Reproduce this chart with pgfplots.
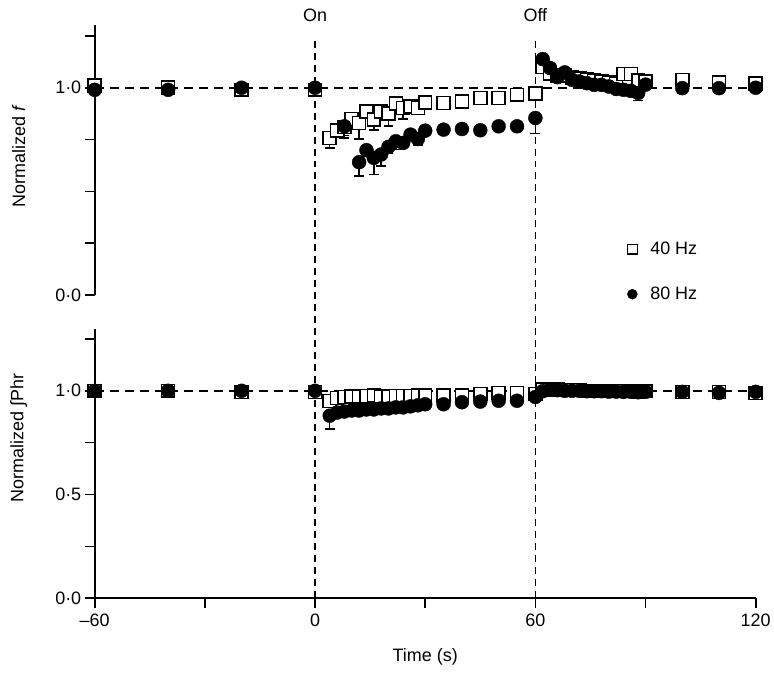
\documentclass[border=0pt]{standalone}
\usepackage{fontspec}
\setmainfont{Liberation Sans}
\usepackage{pgfplots}
\usepackage{pgfplotstable}
\pgfplotsset{compat=1.18}

% top panel, 40 Hz (squares): t value lower-error
\pgfplotstableread{
t v e
-60 1.01 0
-40 1.00 0
-20 0.99 0
0 0.99 0
4 0.758 0.048
6 0.793 0.02
8 0.81 0.04
10 0.849 0.02
12 0.83 0.077
14 0.886 0.02
16 0.846 0.05
18 0.886 0.02
20 0.875 0.06
22 0.923 0.02
24 0.902 0.053
26 0.91 0.02
28 0.902 0.03
30 0.929 0.035
35 0.926 0.01
40 0.934 0.01
45 0.95 0.01
50 0.95 0.01
55 0.966 0.01
60 0.971 0.03
62 1.10 0.01
64 1.07 0.01
66 1.06 0.01
68 1.06 0.01
70 1.05 0.01
72 1.045 0.01
74 1.04 0.01
76 1.035 0.01
78 1.03 0.01
80 1.025 0.01
82 1.02 0.01
84 1.067 0.01
86 1.067 0.01
88 1.035 0.01
90 1.03 0.01
100 1.038 0.01
110 1.026 0.01
120 1.02 0.01
}\topA

% top panel, 80 Hz (circles)
\pgfplotstableread{
t v e
-60 0.99 0
-40 0.99 0
-20 1.00 0
0 1.00 0
8 0.814 0.056
12 0.641 0.067
14 0.699 0.03
16 0.662 0.08
18 0.678 0.056
20 0.715 0.03
22 0.742 0.04
24 0.734 0.02
26 0.774 0.02
28 0.753 0.03
30 0.793 0.02
35 0.798 0.01
40 0.801 0.01
45 0.795 0.01
50 0.814 0.01
55 0.814 0.01
60 0.854 0.075
62 1.138 0.01
64 1.095 0.01
66 1.051 0.01
68 1.074 0.01
70 1.038 0.01
72 1.03 0.01
74 1.022 0.01
76 1.014 0.01
78 1.014 0.01
80 1.006 0.01
82 0.994 0.01
84 0.99 0.01
86 0.985 0.01
88 0.975 0.037
90 1.015 0.01
100 0.998 0.024
110 0.998 0.024
120 1.0 0.01
}\topB

% bottom panel, 40 Hz
\pgfplotstableread{
t v e
-60 1.0 0
-40 1.0 0
-20 0.995 0
0 0.995 0
4 0.95 0.02
6 0.965 0.015
8 0.97 0.015
10 0.972 0.015
12 0.972 0.015
14 0.975 0.015
16 0.978 0.015
18 0.972 0.015
20 0.972 0.015
22 0.975 0.015
24 0.975 0.015
26 0.975 0.015
28 0.978 0.015
30 0.978 0.015
35 0.977 0.01
40 0.978 0.01
45 0.985 0.01
50 0.99 0.01
55 0.99 0.01
60 0.985 0.01
62 1.005 0.005
64 1.005 0.005
66 1.005 0.005
68 1.003 0.005
70 1.003 0.005
72 1.003 0.005
74 1.0 0.005
76 1.0 0.005
78 1.0 0.005
80 1.0 0.005
82 0.998 0.005
84 1.0 0.005
86 0.998 0.005
88 0.995 0.005
90 0.998 0.005
100 0.995 0.01
110 0.995 0.01
120 0.99 0
}\botA

% bottom panel, 80 Hz
\pgfplotstableread{
t v e
-60 1.0 0
-40 1.0 0
-20 1.0 0
0 1.0 0
4 0.88 0.064
6 0.895 0.02
8 0.9 0.02
10 0.905 0.02
12 0.905 0.02
14 0.91 0.02
16 0.91 0.02
18 0.915 0.02
20 0.915 0.02
22 0.92 0.02
24 0.92 0.02
26 0.925 0.015
28 0.93 0.015
30 0.935 0.015
35 0.935 0.01
40 0.945 0.01
45 0.948 0.01
50 0.952 0.01
55 0.952 0.01
60 0.97 0.01
62 0.998 0.005
64 1.005 0.005
66 1.003 0.005
68 1.0 0.005
70 1.0 0.005
72 1.0 0.005
74 0.998 0.005
76 0.998 0.005
78 0.998 0.005
80 0.996 0.005
82 0.996 0.005
84 0.995 0.005
86 0.995 0.005
88 0.993 0.005
90 0.995 0.005
100 0.995 0.01
110 0.99 0.01
120 0.995 0
}\botB

\newcommand{\figfont}{\fontsize{18}{21}\selectfont}

\pgfplotsset{
  panel/.style={
    scale only axis, width=663pt,
    xmin=-60, xmax=120, ymin=0,
    font=\figfont,
    every tick label/.append style={font=\figfont},
    label style={font=\figfont},
    axis line style={line width=2pt, black},
    tick style={line width=1.6pt, black},
    tick align=outside, major tick length=10pt,
    clip=false,
    axis y line*=left,
    ytick={0,0.25,0.5,0.75,1,1.25},
  },
  refline/.style={forget plot, black, line width=1.7pt, dash pattern=on 9pt off 6pt},
  vline/.style={forget plot, black, line width=1.7pt, dash pattern=on 7pt off 5pt},
  sq/.style={only marks, mark=square*, mark size=6.5pt,
    mark options={fill=white, draw=black, line width=1.6pt},
    error bars/.cd, y dir=minus, y explicit, error mark=-,
    error mark options={rotate=90, mark size=5pt, line width=1.5pt, black},
    error bar style={line width=1.5pt, black}},
  ci/.style={only marks, mark=*, mark size=7pt,
    mark options={fill=black, draw=black},
    error bars/.cd, y dir=minus, y explicit, error mark=-,
    error mark options={rotate=90, mark size=5pt, line width=1.5pt, black},
    error bar style={line width=1.5pt, black}},
}

\begin{document}
\begin{tikzpicture}
% ---------- bottom panel ----------
\begin{axis}[panel,
  at={(0,0)}, anchor=south west,
  height=270pt, ymax=1.298,
  axis x line*=bottom,
  xtick={-60,-30,0,30,60,90,120},
  xticklabels={–60,,0,,60,,120},
  xticklabel style={yshift=-2pt},
  yticklabels={0·0,,0·5,,1·0,},
  xlabel={Time (s)},
  xlabel style={at={(axis description cs:0.5,-0.2185)}, anchor=center},
  ylabel={Normalized ∫Phr},
  ylabel style={at={(axis description cs:-0.115,0.596)}, anchor=center},
]
\addplot[refline] coordinates {(-60,1) (120,1)};
\addplot[vline] coordinates {(0,0) (0,2.702)};
\addplot[vline] coordinates {(60,0) (60,2.702)};
\addplot[sq] table[x=t, y=v, y error=e] {\botA};
\addplot[ci] table[x=t, y=v, y error=e] {\botB};
\node[font=\figfont] at (axis cs:0,2.8125) {On};
\node[font=\figfont] at (axis cs:60,2.8125) {Off};
\end{axis}

% ---------- top panel ----------
\begin{axis}[panel,
  at={(0,304pt)}, anchor=south west,
  height=271pt, ymax=1.303,
  axis x line=none,
  yticklabels={0·0,,,,1·0,},
  ylabel={Normalized \textit{f}},
  ylabel style={at={(axis description cs:-0.115,0.513)}, anchor=center},
  legend style={draw=none, fill=none, at={(axis description cs:0.801,0.211)},
    anchor=north west, row sep=27pt, font=\figfont,
    /tikz/every odd column/.style={column sep=11pt}},
  legend image post style={mark size=5pt},
  legend cell align=left,
]
\addplot[refline] coordinates {(-60,1) (120,1)};
\addplot[sq] table[x=t, y=v, y error=e] {\topA};
\addlegendentry{40 Hz}
\addplot[ci] table[x=t, y=v, y error=e] {\topB};
\addlegendentry{80 Hz}
\end{axis}

\path (-95pt,-76pt) rectangle (679pt,600pt);
\end{tikzpicture}
\end{document}
